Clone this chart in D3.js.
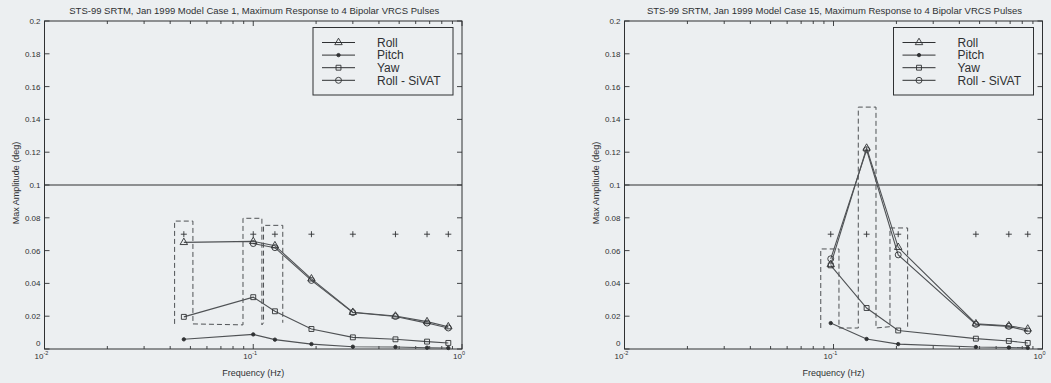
<!DOCTYPE html>
<html>
<head>
<meta charset="utf-8">
<script src="https://cdn.jsdelivr.net/npm/d3@7"></script>
<style>
	body { margin: 0; background: #eceff1; }
	svg { display: block; font-family: "Liberation Sans", Arial, Helvetica, sans-serif; }
</style>
</head>
<body>
<div id="chart"></div>
<script>
// Case 1 (left panel)
const leftTitle = "STS-99 SRTM, Jan 1999 Model Case 1, Maximum Response to 4 Bipolar VRCS Pulses";
const leftFreq = [0.0465, 0.1, 0.127, 0.19, 0.3, 0.48, 0.68, 0.86];
const leftRoll = [0.065, 0.0656, 0.063, 0.0428, 0.0224, 0.0201, 0.0167, 0.0136];
const leftPitch = [0.0059, 0.0089, 0.0057, 0.003, 0.0014, 0.0012, 0.0008, 0.0006];
const leftYaw = [0.0196, 0.0316, 0.023, 0.0122, 0.0071, 0.0059, 0.0045, 0.0037];
const leftSivatFreq = [0.1, 0.127, 0.19, 0.3, 0.48, 0.68, 0.86];
const leftSivat = [0.0643, 0.0618, 0.0418, 0.0222, 0.0198, 0.0158, 0.0128];
const leftPlus = [0.07, 0.07, 0.07, 0.07, 0.07, 0.07, 0.07, 0.07];
const leftBoxFreq = [[0.042, 0.0514], [0.0893, 0.110], [0.112, 0.1385]];
const leftBoxAmp = [[0.0153, 0.078], [0.0147, 0.0797], [0.016, 0.0754]];

// Case 15 (right panel)
const rightTitle = "STS-99 SRTM, Jan 1999 Model Case 15, Maximum Response to 4 Bipolar VRCS Pulses";
const rightFreq = [0.097, 0.144, 0.204, 0.48, 0.69, 0.85];
const rightRoll = [0.0515, 0.1225, 0.062, 0.0154, 0.0142, 0.0122];
const rightPitch = [0.0158, 0.0061, 0.003, 0.0012, 0.0009, 0.0007];
const rightYaw = [0.051, 0.025, 0.0113, 0.0063, 0.0049, 0.0037];
const rightSivatFreq = [0.097, 0.144, 0.204, 0.48, 0.69, 0.85];
const rightSivat = [0.055, 0.1215, 0.0574, 0.015, 0.0138, 0.011];
const rightPlus = [0.07, 0.07, 0.07, 0.07, 0.07, 0.07];
const rightBoxFreq = [[0.0869, 0.1062], [0.1314, 0.1597], [0.1863, 0.2263]];
const rightBoxAmp = [[0.0128, 0.061], [0.0128, 0.1475], [0.0136, 0.0738]];

const legendNames = ["Roll", "Pitch", "Yaw", "Roll - SiVAT"];
const yTicks = [0, 0.02, 0.04, 0.06, 0.08, 0.1, 0.12, 0.14, 0.16, 0.18, 0.2];
const xDomain = [0.01, 1];
const yDomain = [0, 0.2];
const limitLine = 0.1;

const width = 1051;
const height = 383;

const ink = "#2f3133";
const lineColor = "#4f5255";

const svg = d3
	.select("#chart")
	.append("svg")
	.attr("width", width)
	.attr("height", height);

svg.append("rect")
	.attr("width", width)
	.attr("height", height)
	.attr("fill", "#eceff1");

// marker shapes, keyed by legend name
const markers = {
	"Roll": d3.symbol().type(d3.symbolTriangle).size(24)(),
	"Pitch": d3.symbol().type(d3.symbolCircle).size(9)(),
	"Yaw": d3.symbol().type(d3.symbolSquare).size(24)(),
	"Roll - SiVAT": d3.symbol().type(d3.symbolCircle).size(28)()
};

function drawMarker(sel, name){
	sel.append("path")
		.attr("d", markers[name])
		.attr("fill", name == "Pitch" ? ink : "none")
		.attr("stroke", ink)
		.attr("stroke-width", 0.9);
}

function drawPanel(p){

	const x = d3.scaleLog().domain(xDomain).range([p.left, p.right]);
	const y = d3.scaleLinear().domain(yDomain).range([349, 21]);

	const g = svg.append("g");

	// title
	g.append("text")
		.attr("x", (p.left + p.right) / 2 + 1)
		.attr("y", 14)
		.attr("text-anchor", "middle")
		.attr("font-size", 9.5)
		.attr("fill", ink)
		.text(p.title);

	// frame
	g.append("rect")
		.attr("x", p.left)
		.attr("y", y(0.2))
		.attr("width", p.right - p.left)
		.attr("height", y(0) - y(0.2))
		.attr("fill", "none")
		.attr("stroke", ink)
		.attr("stroke-width", 1);

	// x ticks (log, inward, top and bottom)
	const xt = x.ticks();
	const isMajor = d => Math.abs(Math.log10(d) - Math.round(Math.log10(d))) < 1e-9;
	g.append("g")
		.selectAll("line")
		.data(xt.flatMap(d => [{d, side: 0}, {d, side: 1}]))
		.enter()
		.append("line")
		.attr("x1", t => x(t.d))
		.attr("x2", t => x(t.d))
		.attr("y1", t => t.side ? y(0.2) : y(0))
		.attr("y2", t => {
			const len = isMajor(t.d) ? 5 : 3;
			return t.side ? y(0.2) + len : y(0) - len;
		})
		.attr("stroke", ink)
		.attr("stroke-width", 0.9);

	// x tick labels as 10^n
	const xl = g.append("g")
		.selectAll("text")
		.data(xt.filter(isMajor))
		.enter()
		.append("text")
		.attr("x", d => x(d) - 3)
		.attr("y", 358.5)
		.attr("text-anchor", "middle")
		.attr("font-size", 8)
		.attr("fill", ink);
	xl.append("tspan").text("10");
	xl.append("tspan")
		.attr("dy", -4)
		.attr("font-size", 5.5)
		.text(d => Math.round(Math.log10(d)));

	// y ticks, both sides
	g.append("g")
		.selectAll("line")
		.data(yTicks.flatMap(d => [{d, side: 0}, {d, side: 1}]))
		.enter()
		.append("line")
		.attr("x1", t => t.side ? p.right : p.left)
		.attr("x2", t => t.side ? p.right - 5 : p.left + 5)
		.attr("y1", t => y(t.d))
		.attr("y2", t => y(t.d))
		.attr("stroke", ink)
		.attr("stroke-width", 0.9);

	g.append("g")
		.selectAll("text")
		.data(yTicks)
		.enter()
		.append("text")
		.attr("x", p.left - 4)
		.attr("y", d => d == 0 ? y(d) - 3.5 : y(d) + 3)
		.attr("text-anchor", "end")
		.attr("font-size", 8)
		.attr("fill", ink)
		.text(d => String(+d.toFixed(2)));

	// axis labels
	g.append("text")
		.attr("x", (p.left + p.right) / 2)
		.attr("y", 376)
		.attr("text-anchor", "middle")
		.attr("font-size", 9)
		.attr("fill", ink)
		.text("Frequency (Hz)");

	g.append("text")
		.attr("transform", `translate(${p.left - 26},${y(0.1) - 2}) rotate(-90)`)
		.attr("text-anchor", "middle")
		.attr("font-size", 9)
		.attr("fill", ink)
		.text("Max Amplitude (deg)");

	// 0.1 deg limit line
	g.append("line")
		.attr("x1", p.left)
		.attr("x2", p.right)
		.attr("y1", y(limitLine))
		.attr("y2", y(limitLine))
		.attr("stroke", ink)
		.attr("stroke-width", 1.2);

	// dashed frequency boxes, drawn as one polyline
	const boxPts = [];
	p.boxFreq.forEach((f, i) => {
		const a = p.boxAmp[i];
		boxPts.push([f[0], a[0]], [f[0], a[1]], [f[1], a[1]], [f[1], a[0]]);
	});
	g.append("path")
		.attr("d", d3.line().x(d => x(d[0])).y(d => y(d[1]))(boxPts))
		.attr("fill", "none")
		.attr("stroke", lineColor)
		.attr("stroke-width", 1)
		.attr("stroke-dasharray", "5,3");

	// '+' markers
	g.append("g")
		.selectAll("path")
		.data(p.freq.map((f, i) => [f, p.plus[i]]))
		.enter()
		.append("path")
		.attr("transform", d => `translate(${x(d[0])},${y(d[1])})`)
		.attr("d", "M-3,0H3M0,-3V3")
		.attr("stroke", ink)
		.attr("stroke-width", 0.9);

	// series
	const series = [
		{name: "Pitch", f: p.freq, v: p.pitch},
		{name: "Yaw", f: p.freq, v: p.yaw},
		{name: "Roll - SiVAT", f: p.sivatFreq, v: p.sivat},
		{name: "Roll", f: p.freq, v: p.roll}
	];

	const line = d3.line().x(d => x(d[0])).y(d => y(d[1]));

	series.forEach(s => {
		const pts = s.f.map((f, i) => [f, s.v[i]]);
		g.append("path")
			.attr("d", line(pts))
			.attr("fill", "none")
			.attr("stroke", lineColor)
			.attr("stroke-width", 1.1);
		pts.forEach(pt => {
			const m = g.append("g")
				.attr("transform", `translate(${x(pt[0])},${y(pt[1])})`);
			drawMarker(m, s.name);
		});
	});

	// legend
	const lg = g.append("g");
	lg.append("rect")
		.attr("x", p.right - 149)
		.attr("y", 27.5)
		.attr("width", 140)
		.attr("height", 67.5)
		.attr("fill", "#eceff1")
		.attr("stroke", ink)
		.attr("stroke-width", 1);

	legendNames.forEach((name, i) => {
		const ly = 42.5 + i * 12.6;
		const lx = p.right - 140;
		lg.append("line")
			.attr("x1", lx)
			.attr("x2", lx + 33)
			.attr("y1", ly)
			.attr("y2", ly)
			.attr("stroke", ink)
			.attr("stroke-width", 1);
		drawMarker(lg.append("g").attr("transform", `translate(${lx + 16.5},${ly})`), name);
		lg.append("text")
			.attr("x", lx + 55)
			.attr("y", ly + 4.3)
			.attr("font-size", 12)
			.attr("fill", ink)
			.text(name);
	});
}

drawPanel({
	left: 44.5, right: 462, title: leftTitle,
	freq: leftFreq, roll: leftRoll, pitch: leftPitch, yaw: leftYaw,
	sivatFreq: leftSivatFreq, sivat: leftSivat, plus: leftPlus,
	boxFreq: leftBoxFreq, boxAmp: leftBoxAmp
});

drawPanel({
	left: 624.5, right: 1042.5, title: rightTitle,
	freq: rightFreq, roll: rightRoll, pitch: rightPitch, yaw: rightYaw,
	sivatFreq: rightSivatFreq, sivat: rightSivat, plus: rightPlus,
	boxFreq: rightBoxFreq, boxAmp: rightBoxAmp
});
</script>
</body>
</html>
